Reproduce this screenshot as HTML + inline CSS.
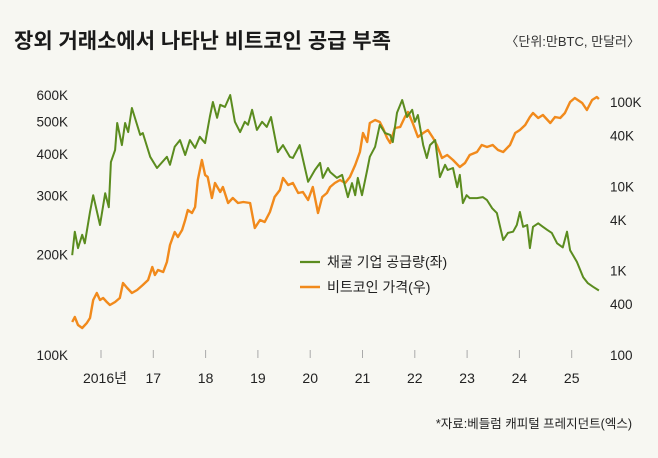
<!DOCTYPE html>
<html><head><meta charset="utf-8">
<style>
html,body{margin:0;padding:0;background:#f7f7f2;}
body{width:658px;height:453px;overflow:hidden;font-family:"Liberation Sans","Noto Sans CJK KR",sans-serif;}
svg text{font-family:"Liberation Sans","Noto Sans CJK KR",sans-serif;}
</style></head>
<body>
<svg id="chart" width="658" height="453" viewBox="0 0 658 453" xmlns="http://www.w3.org/2000/svg">
<rect width="658" height="453" fill="#f7f7f2"/>
<text x="14" y="48" font-size="21" font-weight="bold" fill="#1a1a1a">장외 거래소에서 나타난 비트코인 공급 부족</text>
<text x="640" y="46" font-size="13" text-anchor="end" fill="#333">〈단위:만BTC, 만달러〉</text>
<g id="axes"></g>
<g id="series"></g>
<g>
<line x1="300" y1="262" x2="320" y2="262" stroke="#5b8c1f" stroke-width="2.2"/>
<text x="327" y="267" font-size="14" fill="#222">채굴 기업 공급량(좌)</text>
<line x1="300" y1="287" x2="320" y2="287" stroke="#f18a1c" stroke-width="2.6"/>
<text x="327" y="292" font-size="14" fill="#222">비트코인 가격(우)</text>
</g>
<text x="632" y="428" font-size="12.5" text-anchor="end" fill="#222">*자료:베들럼 캐피털 프레지던트(엑스)</text>
</svg>
<script>
const yearTicks=[2016,2017,2018,2019,2020,2021,2022,2023,2024,2025];
const yearLabels=["2016년","17","18","19","20","21","22","23","24","25"];
const leftTicks=[100,200,300,400,500,600];
const leftLabels=["100K","200K","300K","400K","500K","600K"];
const rightTicks=[100,400,1000,4000,10000,40000,100000];
const rightLabels=["100","400","1K","4K","10K","40K","100K"];
const minerYears=[2015.45,2015.50,2015.56,2015.64,2015.69,2015.79,2015.85,2015.98,2016.08,2016.15,2016.19,2016.27,2016.31,2016.40,2016.46,2016.52,2016.59,2016.75,2016.80,2016.94,2017.07,2017.26,2017.32,2017.41,2017.51,2017.61,2017.70,2017.80,2017.89,2017.99,2018.08,2018.14,2018.22,2018.28,2018.37,2018.47,2018.56,2018.66,2018.75,2018.81,2018.89,2018.98,2019.08,2019.17,2019.25,2019.38,2019.48,2019.61,2019.67,2019.80,2019.96,2020.09,2020.19,2020.24,2020.34,
2020.38,2020.51,2020.61,2020.72,2020.80,2020.86,2020.91,2020.99,2021.09,2021.14,2021.24,2021.33,2021.43,2021.53,2021.58,2021.66,2021.76,2021.85,2021.95,2022.00,2022.06,2022.16,2022.23,2022.29,2022.39,2022.48,2022.58,2022.63,2022.73,2022.81,2022.86,2022.92,2022.99,2023.05,2023.19,2023.30,2023.38,2023.48,2023.57,2023.69,2023.78,2023.88,2023.95,2024.01,2024.07,2024.15,2024.20,2024.26,2024.36,2024.45,2024.53,2024.62,2024.72,2024.83,2024.91,2024.97,2025.10,2025.22,2025.31,2025.41,2025.52];
const minerSupplyK=[199,234,209,229,216,268,301,245,305,277,378,411,495,425,495,465,549,456,462,392,363,392,371,420,440,397,440,417,450,431,516,572,513,561,553,600,499,465,499,489,542,472,499,482,516,405,425,392,389,425,330,358,376,339,363,
353,339,346,297,327,301,339,301,358,392,420,489,462,456,434,531,580,516,542,499,523,425,389,425,440,341,371,358,363,318,346,285,301,295,295,297,291,275,266,221,232,234,245,268,242,245,209,242,248,242,237,232,216,210,234,206,190,171,164,160,156];
const priceYears=[2015.45,2015.50,2015.56,2015.64,2015.73,2015.79,2015.85,2015.92,2015.98,2016.04,2016.11,2016.17,2016.27,2016.36,2016.42,2016.50,2016.59,2016.69,2016.80,2016.90,2016.98,2017.03,2017.09,2017.19,2017.26,2017.32,2017.41,2017.47,2017.55,2017.61,2017.66,2017.74,2017.80,2017.85,2017.93,2017.99,2018.04,2018.12,2018.18,2018.28,2018.33,2018.43,2018.52,2018.62,2018.72,2018.85,2018.94,2019.04,2019.13,2019.23,2019.32,2019.42,2019.48,2019.58,2019.67,2019.77,2019.86,2019.96,2020.05,2020.15,2020.23,2020.32,
2020.38,2020.47,2020.57,2020.67,2020.76,2020.86,2020.95,2021.01,2021.09,2021.14,2021.24,2021.33,2021.39,2021.47,2021.53,2021.62,2021.72,2021.81,2021.87,2021.96,2022.06,2022.16,2022.25,2022.35,2022.42,2022.52,2022.62,2022.73,2022.86,2022.96,2023.05,2023.19,2023.28,2023.38,2023.49,2023.59,2023.69,2023.82,2023.92,2024.01,2024.11,2024.20,2024.26,2024.36,2024.45,2024.59,2024.68,2024.78,2024.87,2024.97,2025.06,2025.20,2025.29,2025.39,2025.48,2025.52];
const priceUSD=[246,282,227,209,240,275,449,544,449,475,425,392,425,475,714,624,544,590,677,776,1107,889,1019,965,1268,2018,2877,2512,3040,3990,5250,4830,5700,11910,20560,13650,12930,7280,10970,8590,9840,6350,7280,6350,6530,6350,3210,3990,3780,4970,7480,9060,12590,10390,10970,8350,8590,6900,9840,4830,7480,8350,
9840,10970,11910,10970,12930,17950,25590,43000,33650,56500,61380,58080,49320,37500,32730,49320,50700,66530,76380,56500,38550,43000,46670,37500,30970,21730,23570,20560,16980,18970,23570,25590,30970,29310,30970,27040,25590,30970,43000,46670,53460,66530,74300,64710,70310,56500,66530,64710,74300,100200,111900,97500,80540,105900,114800,108900];

const NS="http://www.w3.org/2000/svg";
function xScale(y){return 101+(y-2016)*52.3;}
function yLeft(v){return 355-334*Math.log10(v/100);}
function yRight(p){return 355-84.3*Math.log10(p/100);}
function mk(tag,attrs,parent){const e=document.createElementNS(NS,tag);for(const k in attrs)e.setAttribute(k,attrs[k]);parent.appendChild(e);return e;}
const axes=document.getElementById('axes');
yearTicks.forEach((yr,i)=>{
  const t=mk('line',{x1:xScale(yr),x2:xScale(yr),y1:350,y2:358,stroke:'#aaa','stroke-width':1},axes);
  
  
  const l=mk('text',{x:xScale(yr)+(i===0?4:0),y:383,'font-size':14,'text-anchor':'middle',fill:'#222'},axes);
  l.textContent=yearLabels[i];
  
  
});
leftTicks.forEach((v,i)=>{
  const l=mk('text',{x:68,y:yLeft(v)+5,'font-size':13.5,'text-anchor':'end',fill:'#222'},axes);
  l.textContent=leftLabels[i];
  
  
});
rightTicks.forEach((v,i)=>{
  const l=mk('text',{x:610,y:yRight(v)+5,'font-size':13.5,'text-anchor':'start',fill:'#222'},axes);
  l.textContent=rightLabels[i];
  
  
});
const ser=document.getElementById('series');
const pp=priceYears.map((y,i)=>xScale(y).toFixed(1)+','+yRight(priceUSD[i]).toFixed(1)).join(' ');
const pl=mk('polyline',{points:pp,fill:'none',stroke:'#f18a1c','stroke-width':2.4,'stroke-linejoin':'round'},ser);


const mp=minerYears.map((y,i)=>xScale(y).toFixed(1)+','+yLeft(minerSupplyK[i]).toFixed(1)).join(' ');
const ml=mk('polyline',{points:mp,fill:'none',stroke:'#5b8c1f','stroke-width':2,'stroke-linejoin':'round'},ser);


</script>
</body></html>
